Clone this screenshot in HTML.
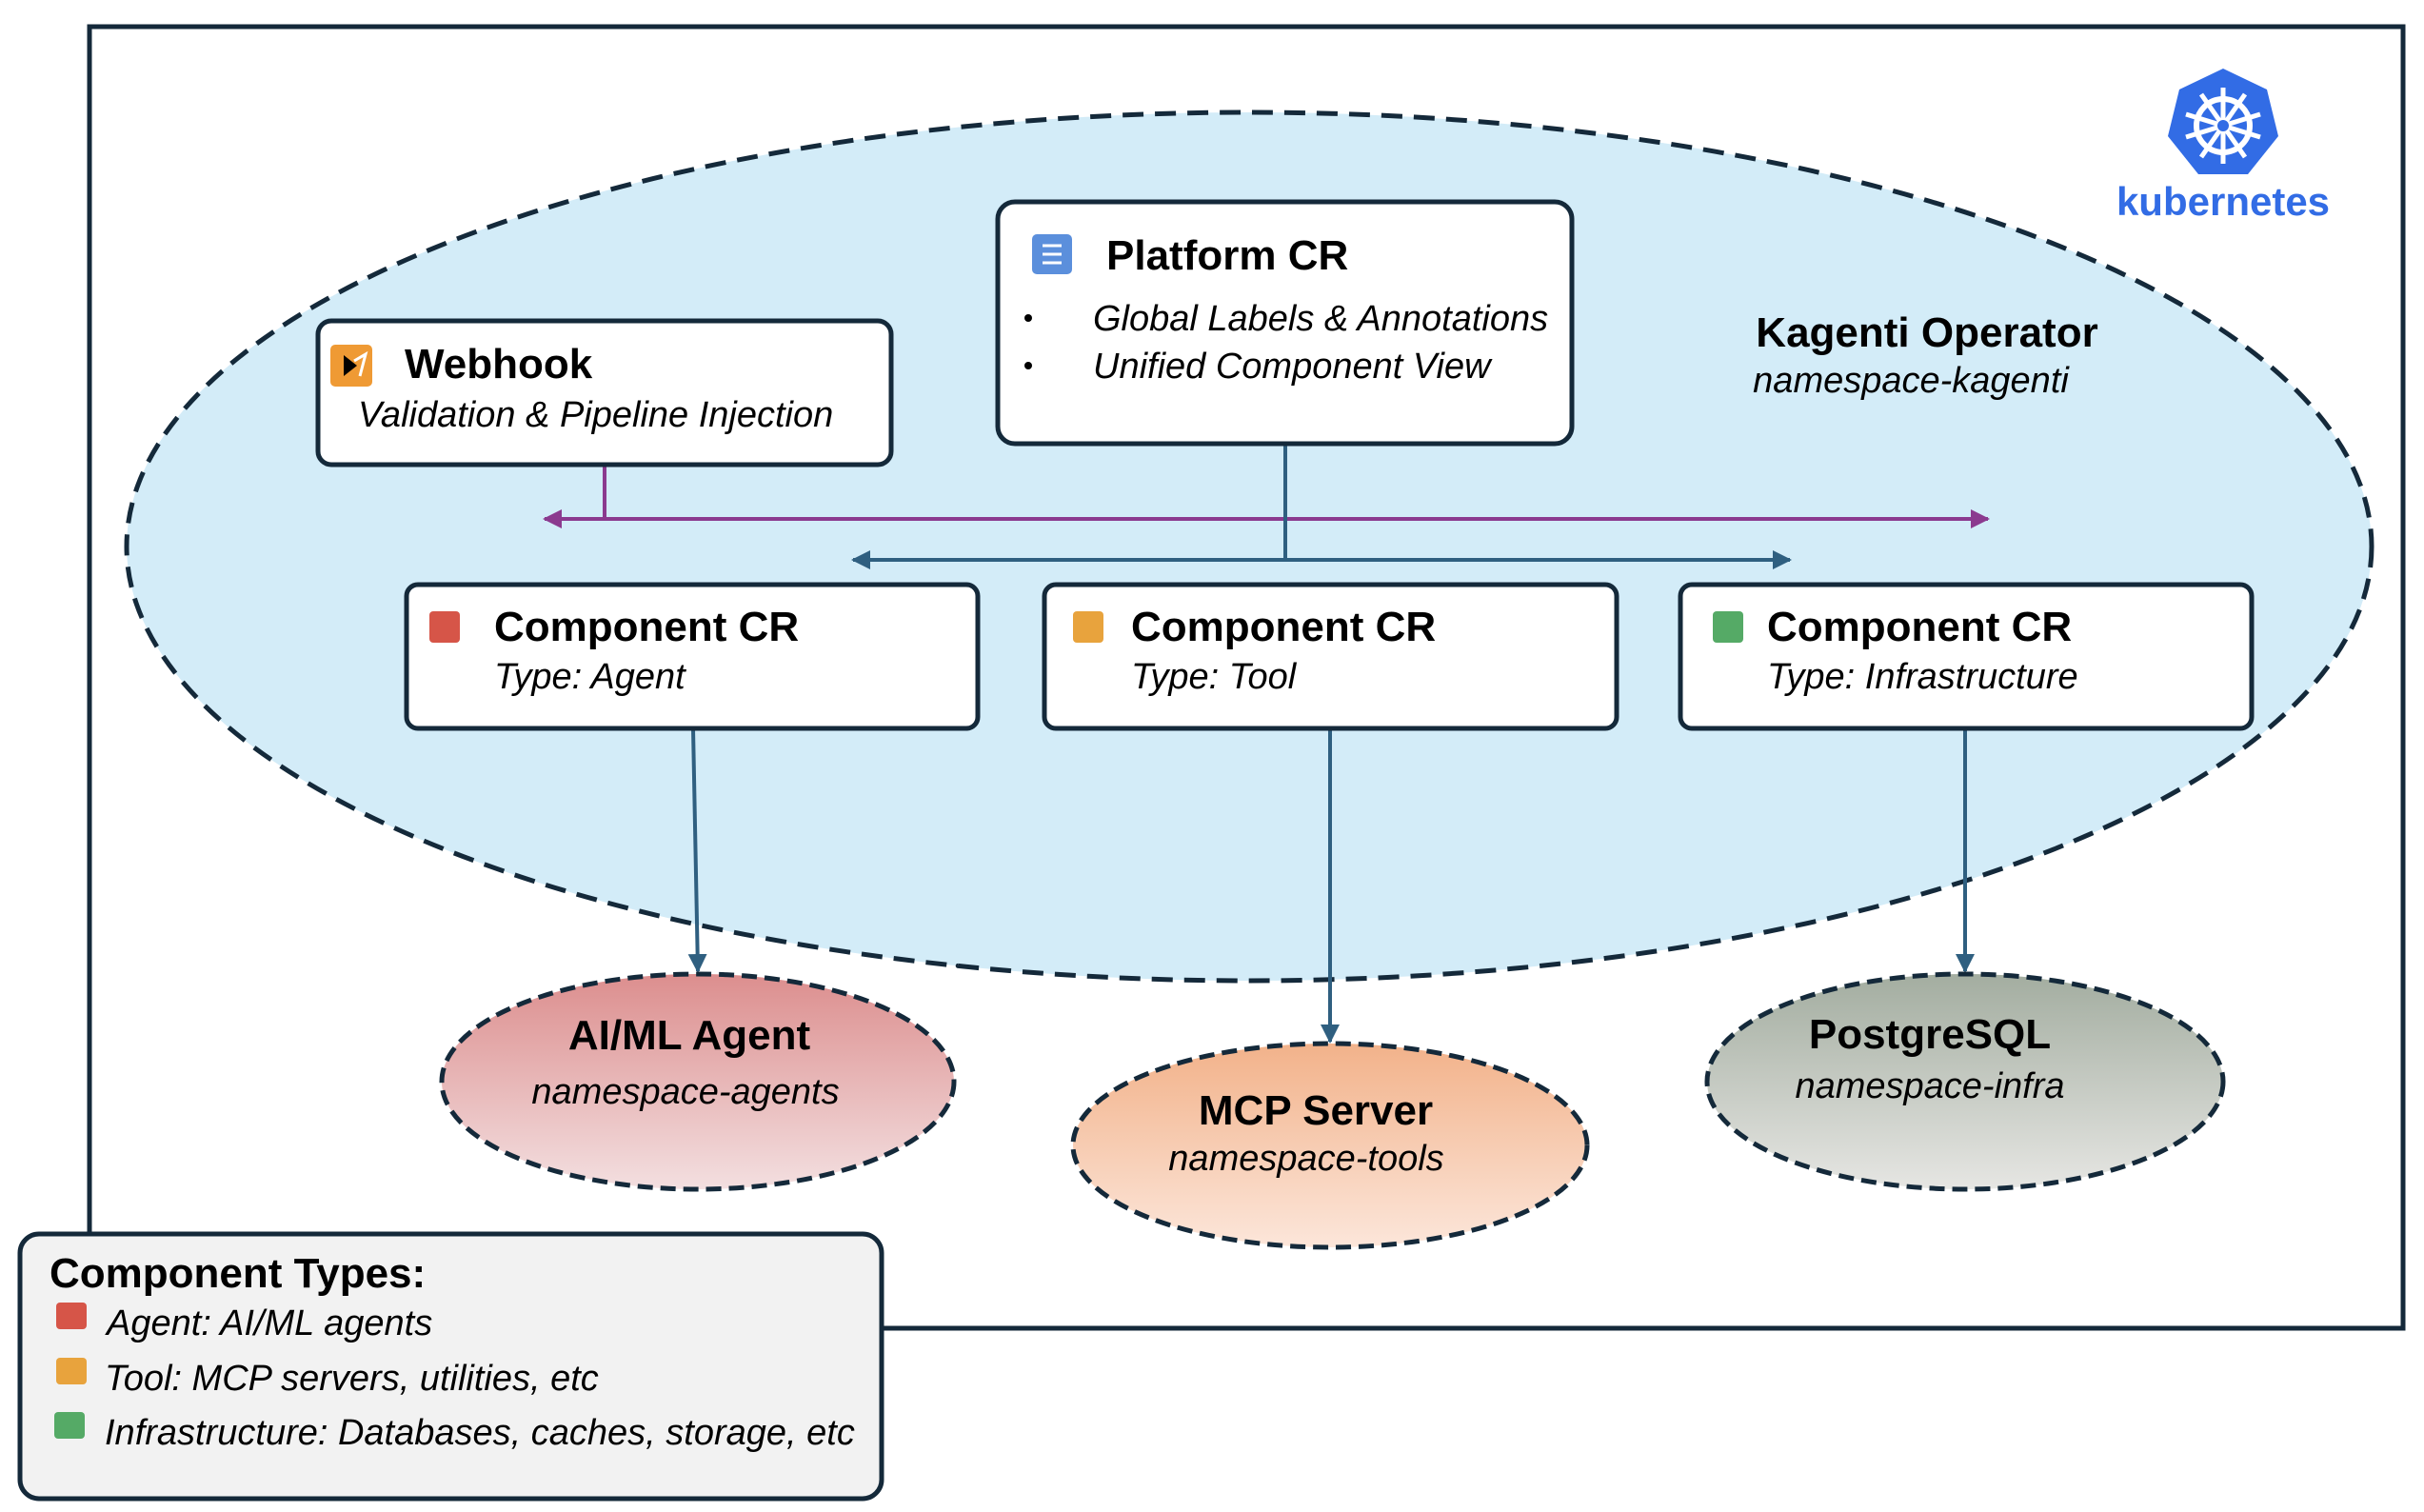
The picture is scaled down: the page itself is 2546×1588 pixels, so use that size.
<!DOCTYPE html>
<html><head><meta charset="utf-8"><style>
html,body{margin:0;padding:0;background:#fff;}
svg{display:block;}
text{font-family:"Liberation Sans",sans-serif;}
.t{font-weight:bold;font-size:44px;fill:#000;}
.s{font-style:italic;font-size:38px;fill:#000;}
</style></head><body>
<svg width="2546" height="1588" viewBox="0 0 2546 1588" xmlns="http://www.w3.org/2000/svg">
<defs>
<linearGradient id="gr" x1="0" y1="0" x2="0" y2="1"><stop offset="0" stop-color="#dc8e8e"/><stop offset="1" stop-color="#f3dfe0"/></linearGradient>
<linearGradient id="go" x1="0" y1="0" x2="0" y2="1"><stop offset="0" stop-color="#f2b28a"/><stop offset="1" stop-color="#fce6da"/></linearGradient>
<linearGradient id="gg" x1="0" y1="0" x2="0" y2="1"><stop offset="0" stop-color="#a3ada0"/><stop offset="1" stop-color="#e6e6e3"/></linearGradient>
<marker id="ap" viewBox="0 0 10 10" refX="9" refY="5" markerWidth="5" markerHeight="5" orient="auto-start-reverse"><path d="M0,0 L10,5 L0,10 z" fill="#8b3a8f"/></marker>
<marker id="ab" viewBox="0 0 10 10" refX="9" refY="5" markerWidth="5" markerHeight="5" orient="auto-start-reverse"><path d="M0,0 L10,5 L0,10 z" fill="#2f5f80"/></marker>
</defs>
<rect x="94" y="28" width="2430" height="1367" fill="#fff" stroke="#14293a" stroke-width="5"/>
<ellipse cx="1312" cy="574" rx="1179" ry="456" fill="#d3ecf8" stroke="#14293a" stroke-width="5" stroke-dasharray="22 12"/>
<polygon points="2335,72 2381,94 2393,143 2361,183 2309,183 2277,143 2289,94" fill="#326ce5"/>
<circle cx="2335" cy="132" r="28" fill="none" stroke="#fff" stroke-width="6"/>
<g stroke="#fff" stroke-width="5"><line x1="2335" y1="92" x2="2335" y2="172"/><line x1="2296" y1="120" x2="2374" y2="144"/><line x1="2374" y1="120" x2="2296" y2="144"/><line x1="2312" y1="165" x2="2358" y2="99"/><line x1="2358" y1="165" x2="2312" y2="99"/></g>
<circle cx="2335" cy="132" r="6" fill="#326ce5"/>
<text x="2335" y="226" text-anchor="middle" style="font-weight:bold;font-size:42px;fill:#326ce5">kubernetes</text>
<text x="2024" y="364" text-anchor="middle" class="t">Kagenti Operator</text>
<text x="2007" y="412" text-anchor="middle" class="s">namespace-kagenti</text>
<line x1="635" y1="488" x2="635" y2="545" stroke="#8b3a8f" stroke-width="4"/>
<line x1="572" y1="545" x2="2088" y2="545" stroke="#8b3a8f" stroke-width="4" marker-start="url(#ap)" marker-end="url(#ap)"/>
<line x1="1350" y1="466" x2="1350" y2="588" stroke="#2f5f80" stroke-width="4"/>
<line x1="896" y1="588" x2="1880" y2="588" stroke="#2f5f80" stroke-width="4" marker-start="url(#ab)" marker-end="url(#ab)"/>
<line x1="728" y1="765" x2="733" y2="1020" stroke="#2f5f80" stroke-width="4" marker-end="url(#ab)"/>
<line x1="1397" y1="765" x2="1397" y2="1094" stroke="#2f5f80" stroke-width="4" marker-end="url(#ab)"/>
<line x1="2064" y1="765" x2="2064" y2="1020" stroke="#2f5f80" stroke-width="4" marker-end="url(#ab)"/>
<rect x="1048" y="212" width="603" height="254" rx="18" fill="#fff" stroke="#14293a" stroke-width="5"/>
<rect x="1084" y="246" width="42" height="42" rx="5" fill="#5b8fdc"/>
<g stroke="#fff" stroke-width="3"><line x1="1095" y1="258" x2="1115" y2="258"/><line x1="1095" y1="267" x2="1115" y2="267"/><line x1="1095" y1="276" x2="1115" y2="276"/></g>
<text x="1162" y="283" class="t">Platform CR</text>
<circle cx="1080" cy="334" r="4" fill="#000"/><circle cx="1080" cy="384" r="4" fill="#000"/>
<text x="1148" y="347" class="s">Global Labels &amp; Annotations</text>
<text x="1148" y="397" class="s">Unified Component View</text>
<rect x="334" y="337" width="602" height="151" rx="14" fill="#fff" stroke="#14293a" stroke-width="5"/>
<rect x="347" y="362" width="44" height="44" rx="5" fill="#ef9a34"/>
<path d="M361,373 L375,384 L361,395 z" fill="#000"/><path d="M372,379 L384,372 L378,395" fill="none" stroke="#fff" stroke-width="3"/>
<text x="425" y="397" class="t">Webhook</text>
<text x="376" y="448" class="s">Validation &amp; Pipeline Injection</text>
<rect x="427" y="614" width="600" height="151" rx="12" fill="#fff" stroke="#14293a" stroke-width="5"/>
<rect x="451" y="642" width="32" height="33" rx="4" fill="#d65548"/>
<text x="519" y="673" class="t">Component CR</text>
<text x="519" y="723" class="s">Type: Agent</text>
<rect x="1097" y="614" width="601" height="151" rx="12" fill="#fff" stroke="#14293a" stroke-width="5"/>
<rect x="1127" y="642" width="32" height="33" rx="4" fill="#e8a33d"/>
<text x="1188" y="673" class="t">Component CR</text>
<text x="1188" y="723" class="s">Type: Tool</text>
<rect x="1765" y="614" width="600" height="151" rx="12" fill="#fff" stroke="#14293a" stroke-width="5"/>
<rect x="1799" y="642" width="32" height="33" rx="4" fill="#55aa66"/>
<text x="1856" y="673" class="t">Component CR</text>
<text x="1856" y="723" class="s">Type: Infrastructure</text>
<ellipse cx="733" cy="1136" rx="269" ry="113" fill="url(#gr)" stroke="#14293a" stroke-width="5" stroke-dasharray="16 8"/>
<text x="724" y="1102" text-anchor="middle" class="t">AI/ML Agent</text>
<text x="720" y="1159" text-anchor="middle" class="s">namespace-agents</text>
<ellipse cx="1397" cy="1203" rx="270" ry="107" fill="url(#go)" stroke="#14293a" stroke-width="5" stroke-dasharray="16 8"/>
<text x="1382" y="1181" text-anchor="middle" class="t">MCP Server</text>
<text x="1372" y="1229" text-anchor="middle" class="s">namespace-tools</text>
<ellipse cx="2064" cy="1136" rx="271" ry="113" fill="url(#gg)" stroke="#14293a" stroke-width="5" stroke-dasharray="16 8"/>
<text x="2027" y="1101" text-anchor="middle" class="t">PostgreSQL</text>
<text x="2027" y="1153" text-anchor="middle" class="s">namespace-infra</text>
<rect x="21" y="1296" width="905" height="278" rx="20" fill="#f2f2f2" stroke="#14293a" stroke-width="5"/>
<text x="52" y="1352" class="t">Component Types:</text>
<rect x="59" y="1368" width="32" height="28" rx="4" fill="#d65548"/>
<text x="112" y="1402" class="s">Agent: AI/ML agents</text>
<rect x="59" y="1426" width="32" height="28" rx="4" fill="#e8a33d"/>
<text x="110" y="1460" class="s">Tool: MCP servers, utilities, etc</text>
<rect x="57" y="1483" width="32" height="28" rx="4" fill="#55aa66"/>
<text x="110" y="1517" class="s">Infrastructure: Databases, caches, storage, etc</text>
</svg>
</body></html>
